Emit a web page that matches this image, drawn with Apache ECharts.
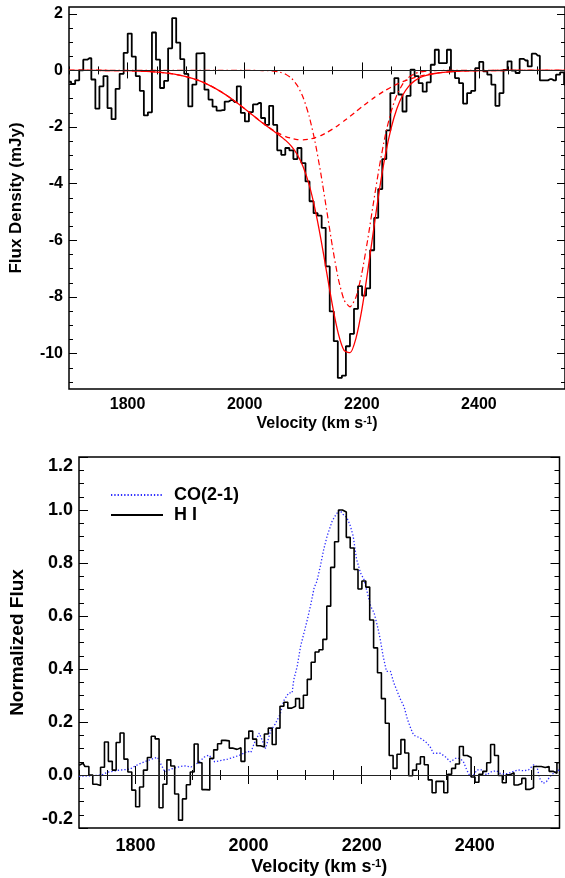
<!DOCTYPE html>
<html><head><meta charset="utf-8">
<script src="https://cdn.jsdelivr.net/npm/echarts@6/dist/echarts.min.js"></script>
<style>html,body{margin:0;padding:0;background:#fff;}#c{width:565px;height:878px;}</style>
</head><body><div id="c"></div>
<script>
// ---------------- data ----------------
// H I absorption spectrum: channel grid (start velocity + channel width) and flux density (mJy)
const HI_V0 = 1700.2;
const HI_DV = 6.9;
const hiFlux = [
 -0.40,-0.48,-0.35, 0.00, 0.38, 0.43,-0.32,-1.35,-0.56,-0.20,
 -1.33,-1.72,-0.65,-0.12, 0.62, 1.30, 0.49,-0.20,-0.72,-1.59,
 -1.48, 1.34, 0.38,-0.62,-0.37, 0.78, 1.85, 0.98, 0.40,-0.12,
 -1.27,-0.50, 0.60, 0.61,-0.68,-1.03,-1.28,-1.42,-1.40,-1.10,
 -1.05,-1.12,-0.56,-1.50,-1.80,-1.47,-1.20,-1.15,-1.68,-1.92,
 -1.25,-1.92,-2.82,-2.98,-2.74,-2.82,-3.13,-2.74,-3.27,-3.92,
 -4.62,-5.04,-5.13,-5.56,-6.92,-8.51,-9.56,-10.86,-10.78,-9.74,
 -9.30,-8.42,-7.62,-7.95,-7.70,-6.35,-5.21,-4.19,-3.13,-2.12,
 -0.80,-0.27,-0.85,-1.45,-0.90, 0.03,-0.20,-0.45,-0.75,-0.42,
  0.20, 0.73, 0.26, 0.26, 0.73,-0.03,-0.27,-0.45,-1.17,-0.80,
 -0.72, 0.08, 0.30,-0.03,-0.15,-0.50,-1.25,-0.80, 0.02, 0.32,
 -0.01,-0.09, 0.41, 0.35, 0.14, 0.59, 0.52,-0.35,-0.35,-0.31,
 -0.35,-0.15,-0.07,-0.50
];

// Gaussian fit curves (velocity, mJy)
const fitVel = [1700,1720,1740,1760,1780,1800,1820,1840,1860,1880,1900,1920,1940,1960,1980,
 2000,2010,2020,2030,2040,2050,2060,2070,2080,2090,2100,2110,2120,2130,2140,2150,2160,2170,2180,
 2190,2200,2210,2220,2230,2240,2250,2260,2270,2280,2290,2300,2310,2320,2330,2340,
 2360,2380,2400,2420,2440,2460,2480,2500,2520,2550];
const fitTotal = [0,0,-0.001,-0.002,-0.005,-0.010,-0.021,-0.040,-0.074,-0.130,-0.218,-0.346,-0.525,-0.756,-1.037,
 -1.354,-1.519,-1.684,-1.846,-2.000,-2.151,-2.303,-2.470,-2.681,-2.978,-3.412,-4.034,-4.880,-5.936,-7.129,-8.314,-9.302,-9.898,-9.968,
 -9.461,-8.457,-7.115,-5.643,-4.229,-3.008,-2.047,-1.346,-0.870,-0.561,-0.369,-0.249,-0.175,-0.126,-0.091,-0.067,
 -0.035,-0.018,-0.009,-0.004,-0.002,-0.001,0,0,0,0];
const fitBroad = [0,0,-0.001,-0.002,-0.005,-0.010,-0.021,-0.040,-0.074,-0.130,-0.218,-0.346,-0.525,-0.756,-1.037,
 -1.354,-1.519,-1.683,-1.842,-1.990,-2.125,-2.241,-2.334,-2.401,-2.440,-2.450,-2.428,-2.378,-2.300,-2.197,-2.073,-1.933,-1.779,-1.618,
 -1.453,-1.289,-1.129,-0.978,-0.836,-0.706,-0.589,-0.485,-0.395,-0.317,-0.252,-0.197,-0.153,-0.117,-0.088,-0.066,
 -0.035,-0.018,-0.009,-0.004,-0.002,-0.001,0,0,0,0];
const fitNarrow = [0,0,0,0,0,0,0,0,0,0,0,0,0,0,0,
 0,0,-0.001,-0.004,-0.010,-0.026,-0.062,-0.136,-0.280,-0.538,-0.962,-1.606,-2.502,-3.636,-4.932,-6.241,-7.369,-8.119,-8.350,
 -8.008,-7.168,-5.986,-4.665,-3.393,-2.302,-1.458,-0.861,-0.475,-0.244,-0.117,-0.052,-0.022,-0.009,-0.003,-0.001,
 0,0,0,0,0,0,0,0,0,0];

// CO(2-1) normalized profile (velocity, normalized flux)
const coVel = [1700,1720,1740,1750,1770,1790,1800,1810,1822,1833,1839,1845,1852,1862,1875,1886,1898,1910,1922,1930,
 1940,1952,1963,1975,1986,1998,2004,2010,2019,2030,2039,2047,2056,2062,2071,2077,2080,2086,2092,2098,
 2104,2110,2116,2121,2127,2133,2139,2148,2155,2161,2167,2174,2180,2185,2191,2198,2204,2210,2216,2222,
 2228,2233,2238,2244,2251,2257,2263,2269,2275,2281,2287,2292,2298,2304,2313,2321,2327,2339,2348,2357,
 2366,2374,2380,2386,2392,2398,2404,2413,2421,2430,2439,2445,2451,2460,2468,2477,2486,2495,2504,2510,
 2515,2521,2527,2533,2539,2545,2550];
const coNorm = [-0.005,-0.003,0.000,0.010,0.018,0.022,0.035,0.045,0.055,0.063,0.067,0.040,0.012,0.022,0.030,0.035,0.030,0.045,0.068,0.075,
 0.050,0.055,0.060,0.068,0.076,0.090,0.085,0.120,0.158,0.100,0.167,0.192,0.230,0.280,0.310,0.310,0.360,0.410,0.486,0.536,
 0.587,0.643,0.707,0.732,0.789,0.852,0.902,0.959,0.984,1.000,0.984,0.971,0.940,0.902,0.814,0.763,0.738,0.688,0.637,0.612,
 0.561,0.511,0.448,0.391,0.391,0.347,0.315,0.284,0.258,0.210,0.175,0.150,0.145,0.139,0.126,0.107,0.082,0.082,0.069,0.050,
 0.063,0.063,0.050,0.019,-0.006,0.000,0.019,0.019,0.000,0.013,0.016,0.006,0.004,0.006,0.013,0.019,0.016,0.019,0.038,0.032,
 -0.013,-0.032,-0.025,-0.006,0.006,0.013,0.020];

// axis ranges and tick labels
const X_MIN = 1700, X_MAX_TOP = 2547, X_MAX_BOT = 2550;
const TOP_Y_MIN = -11.25, TOP_Y_MAX = 2.24;
const BOT_Y_MIN = -0.2, BOT_Y_MAX = 1.2;
const xMajorTicks = [1800, 2000, 2200, 2400];
const xMinorTicks = [1700,1750,1800,1850,1900,1950,2000,2050,2100,2150,2200,2250,2300,2350,2400,2450,2500,2550];
const topYMajorTicks = [-10, -8, -6, -4, -2, 0, 2];
const topYMinorTicks = [-11,-10.5,-10,-9.5,-9,-8.5,-8,-7.5,-7,-6.5,-6,-5.5,-5,-4.5,-4,-3.5,-3,-2.5,-2,-1.5,-1,-0.5,0,0.5,1,1.5,2];
const botYMajorTicks = [-0.2, 0, 0.2, 0.4, 0.6, 0.8, 1.0, 1.2];
const botYMinorTicks = [-0.2,-0.15,-0.1,-0.05,0,0.05,0.1,0.15,0.2,0.25,0.3,0.35,0.4,0.45,0.5,0.55,0.6,0.65,0.7,0.75,0.8,0.85,0.9,0.95,1.0,1.05,1.1,1.15,1.2];

// ---------------- build ----------------
const hiVel = hiFlux.map((_, i) => +(HI_V0 + i * HI_DV).toFixed(2));
const HI_PEAK = Math.min(...hiFlux);
const hiNorm = hiFlux.map(f => f / HI_PEAK);
const pairs = (xs, ys) => xs.map((x, i) => [x, ys[i]]);

const FONT = 'Liberation Sans';
const black = '#000';

function axis(grid, pos, min, max, ticks, len, label) {
  const a = {
    type: 'value', gridIndex: grid, position: pos, min: min, max: max,
    axisLine: { show: false }, splitLine: { show: false },
    axisTick: { show: true, inside: true, length: len, customValues: ticks, lineStyle: { color: black, width: 1 } },
    axisLabel: { show: false, customValues: ticks }
  };
  if (label) Object.assign(a.axisLabel, label, { show: true, customValues: ticks });
  return a;
}
const plain = v => String(v);

const xAxes = [
  axis(0, 'bottom', X_MIN, X_MAX_TOP, xMajorTicks, 8, { color: black, fontFamily: FONT, fontWeight: 'bold', fontSize: 16, margin: 8, formatter: plain }),
  axis(0, 'bottom', X_MIN, X_MAX_TOP, xMinorTicks, 4),
  axis(0, 'top', X_MIN, X_MAX_TOP, xMajorTicks, 8),
  axis(0, 'top', X_MIN, X_MAX_TOP, xMinorTicks, 4),
  axis(1, 'bottom', X_MIN, X_MAX_BOT, xMajorTicks, 9, { color: black, fontFamily: FONT, fontWeight: 'bold', fontSize: 18, margin: 9, formatter: plain }),
  axis(1, 'bottom', X_MIN, X_MAX_BOT, xMinorTicks, 5),
  axis(1, 'top', X_MIN, X_MAX_BOT, xMajorTicks, 9),
  axis(1, 'top', X_MIN, X_MAX_BOT, xMinorTicks, 5)
];
Object.assign(xAxes[0], {
  name: 'Velocity (km s{sup|-1})', nameLocation: 'middle', nameGap: 27,
  nameTextStyle: { color: black, fontFamily: FONT, fontWeight: 'bold', fontSize: 16,
    rich: { sup: { fontFamily: FONT, fontWeight: 'bold', fontSize: 10, verticalAlign: 'top', lineHeight: 10 } } }
});
Object.assign(xAxes[4], {
  name: 'Velocity (km s{sup|-1})', nameLocation: 'middle', nameGap: 30,
  nameTextStyle: { color: black, fontFamily: FONT, fontWeight: 'bold', fontSize: 18,
    rich: { sup: { fontFamily: FONT, fontWeight: 'bold', fontSize: 11, verticalAlign: 'top', lineHeight: 11 } } }
});

const yAxes = [
  axis(0, 'left', TOP_Y_MIN, TOP_Y_MAX, topYMajorTicks, 8, { color: black, fontFamily: FONT, fontWeight: 'bold', fontSize: 16, margin: 6, formatter: plain }),
  axis(0, 'left', TOP_Y_MIN, TOP_Y_MAX, topYMinorTicks, 4),
  axis(0, 'right', TOP_Y_MIN, TOP_Y_MAX, topYMajorTicks, 8),
  axis(0, 'right', TOP_Y_MIN, TOP_Y_MAX, topYMinorTicks, 4),
  axis(1, 'left', BOT_Y_MIN, BOT_Y_MAX, botYMajorTicks, 9, { color: black, fontFamily: FONT, fontWeight: 'bold', fontSize: 18, margin: 6,
    formatter: v => v.toFixed(1), verticalAlignMaxLabel: 'top', verticalAlignMinLabel: 'bottom' }),
  axis(1, 'left', BOT_Y_MIN, BOT_Y_MAX, botYMinorTicks, 5),
  axis(1, 'right', BOT_Y_MIN, BOT_Y_MAX, botYMajorTicks, 9),
  axis(1, 'right', BOT_Y_MIN, BOT_Y_MAX, botYMinorTicks, 5)
];
Object.assign(yAxes[0], {
  name: 'Flux Density (mJy)', nameLocation: 'middle', nameGap: 44,
  nameTextStyle: { color: black, fontFamily: FONT, fontWeight: 'bold', fontSize: 17 }
});
Object.assign(yAxes[4], {
  name: 'Normalized Flux', nameLocation: 'middle', nameGap: 52,
  nameTextStyle: { color: black, fontFamily: FONT, fontWeight: 'bold', fontSize: 19 }
});

const zeroLine = {
  silent: true, symbol: 'none', label: { show: false },
  lineStyle: { color: '#222', type: 'solid', width: 1.2 },
  data: [{ yAxis: 0 }]
};

const option = {
  backgroundColor: '#fff',
  animation: false,
  grid: [
    { left: 68, top: 7, width: 497, height: 382, show: true, borderColor: black, borderWidth: 1.5, backgroundColor: 'transparent' },
    { left: 78, top: 457, width: 481.5, height: 371, show: true, borderColor: black, borderWidth: 1.5, backgroundColor: 'transparent' }
  ],
  xAxis: xAxes,
  yAxis: yAxes,
  legend: {
    orient: 'vertical', left: 105, top: 480, itemWidth: 52, itemHeight: 20, itemGap: 0,
    data: ['CO(2-1)', 'H I'],
    itemStyle: { opacity: 0, borderWidth: 0 },
    textStyle: { color: black, fontFamily: FONT, fontWeight: 'bold', fontSize: 18, lineHeight: 20, padding: [0, 0, 0, 6] }
  },
  series: [
    { type: 'line', name: 'HI spectrum', xAxisIndex: 0, yAxisIndex: 0, step: 'middle', symbol: 'none',
      data: pairs(hiVel, hiFlux), lineStyle: { color: black, width: 1.8 }, itemStyle: { color: black }, markLine: zeroLine, z: 2 },
    { type: 'line', name: 'fit total', xAxisIndex: 0, yAxisIndex: 0, symbol: 'none', smooth: 0.2,
      data: pairs(fitVel, fitTotal), lineStyle: { color: '#ff0000', width: 1.3 }, itemStyle: { color: '#ff0000' }, z: 3 },
    { type: 'line', name: 'fit broad', xAxisIndex: 0, yAxisIndex: 0, symbol: 'none', smooth: 0.2,
      data: pairs(fitVel, fitBroad), lineStyle: { color: '#ff0000', width: 1.3, type: [5, 4] }, itemStyle: { color: '#ff0000' }, z: 3 },
    { type: 'line', name: 'fit narrow', xAxisIndex: 0, yAxisIndex: 0, symbol: 'none', smooth: 0.2,
      data: pairs(fitVel, fitNarrow), lineStyle: { color: '#ff0000', width: 1.2, type: [6, 3, 1.5, 3] }, itemStyle: { color: '#ff0000' }, z: 3 },
    { type: 'line', name: 'CO(2-1)', xAxisIndex: 4, yAxisIndex: 4, symbol: 'none',
      data: pairs(coVel, coNorm), lineStyle: { color: '#2b2bff', width: 1.3, type: [1.3, 2] }, itemStyle: { color: '#2b2bff' }, z: 2 },
    { type: 'line', name: 'H I', xAxisIndex: 4, yAxisIndex: 4, step: 'middle', symbol: 'none',
      data: pairs(hiVel, hiNorm), lineStyle: { color: black, width: 1.6 }, itemStyle: { color: black }, markLine: zeroLine, z: 3 }
  ]
};

const chart = echarts.init(document.getElementById('c'), null, { renderer: 'canvas' });
chart.setOption(option);
</script></body></html>
